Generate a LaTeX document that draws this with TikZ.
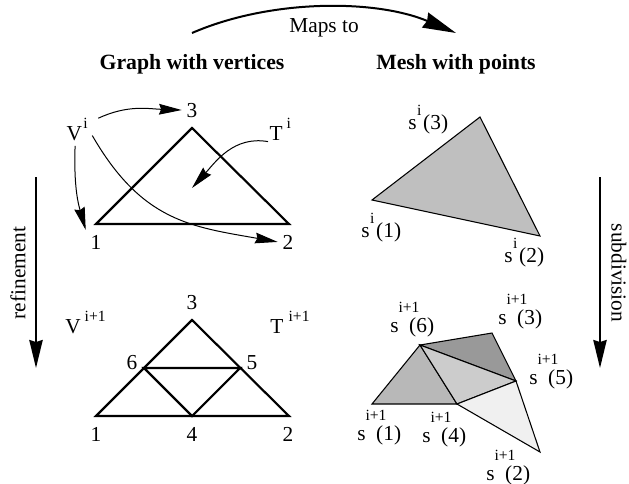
\documentclass[tikz,border=0pt]{standalone}
\usepackage{fontspec}
\setmainfont{Liberation Serif}
\usetikzlibrary{arrows.meta, positioning, calc}
% raised index, takes no width of its own
\newcommand{\upidx}[2]{\raisebox{#1}{\makebox[0pt][l]{\fontsize{11.7}{13}\selectfont #2}}}
\begin{document}
\begin{tikzpicture}[
    x=0.75pt, y=-0.75pt,
    every node/.style={font=\fontsize{16}{19}\selectfont, inner sep=0pt},
    lab/.style={anchor=base, inner sep=3.5pt},
    sublab/.style={anchor=base west},
    headline/.style={anchor=base, font=\fontsize{16.3}{19}\selectfont\bfseries},
    graphline/.style={draw=black, line width=1.6pt, line join=miter},
    meshface/.style={draw=black, line width=0.8pt, line join=miter},
    thin arrow/.style={-{Stealth[length=17pt,width=8pt,inset=1.5pt]}, line width=0.75pt},
    flow arrow/.style={-{Stealth[length=21pt,width=10pt,inset=1.5pt]}, line width=1.5pt},
  ]
  \useasboundingbox (0,0) rectangle (629,483);

  %% ---- headings and the top arrow ----
  \node[headline] (graphhead) at (192,69) {Graph with vertices};
  \node[headline] (meshhead)  at (456,69) {Mesh with points};
  \node[anchor=base] (maps) at (324,32) {Maps to};
  \coordinate (mapsL) at (192,33);
  \coordinate (mapsR) at (456,33);
  \draw[flow arrow, -{Stealth[length=25pt,width=12pt,inset=1.5pt]}]
    (mapsL) .. controls (270,-1) and (375,-1) .. (mapsR);

  %% ---- side arrows ----
  \coordinate (refA) at (36,177);
  \coordinate (refB) at (36,368);
  \coordinate (subA) at (600,177);
  \coordinate (subB) at (600,368);
  \draw[flow arrow] (refA) -- (refB);
  \draw[flow arrow] (subA) -- (subB);
  \node[rotate=90] (refine) at (18,273) {refinement};
  \node[rotate=-90] (subdiv) at (619,273) {subdivision};

  %% ---- graph, level i ----
  \coordinate (a1) at (96,224);
  \coordinate (a2) at (289,224);
  \coordinate (a3) at (192,128);
  \draw[graphline] (a1) -- (a3) -- (a2) -- cycle;
  \node[lab] (la3) at (192,117) {3};
  \node[lab] (la1) at (96,249) {1};
  \node[lab] (la2) at (288,249) {2};
  \node[lab, anchor=base west, inner sep=4pt] (Vi) at (61,140) {V\upidx{9pt}{\kern1pt i}\kern8pt};
  \node[lab, anchor=base west, inner sep=1pt] (Ti) at (268,140) {T\upidx{9pt}{\kern3pt i}\kern8pt};
  \coordinate (Tin) at (192,188);
  \draw[thin arrow] (Vi.30) to[out=25,in=178] (la3.west);
  \draw[thin arrow] (Vi.-105) to[out=-92,in=106] (la1.north west);
  \draw[thin arrow, shorten <=-9pt] (Vi.south east) to[out=-60,in=170,looseness=1.1] (la2.west);
  \draw[thin arrow] (Ti.south west) to[out=170,in=48] (Tin);

  %% ---- graph, level i+1 ----
  \coordinate (b1) at (96,416);
  \coordinate (b2) at (289,416);
  \coordinate (b3) at (192,320);
  \coordinate (b4) at (192,416);
  \coordinate (b5) at (240,368);
  \coordinate (b6) at (144,368);
  \draw[graphline] (b1) -- (b3) -- (b2) -- cycle;
  \draw[graphline] (b6) -- (b5) -- (b4) -- cycle;
  \node[lab] (lb3) at (192,309) {3};
  \node[lab] (lb1) at (96,441) {1};
  \node[lab] (lb4) at (192,441) {4};
  \node[lab] (lb2) at (288,441) {2};
  \node[lab] (lb6) at (132,369) {6};
  \node[lab] (lb5) at (252,369) {5};
  \node[sublab] (Vn) at (65,333) {V\upidx{9pt}{\kern3pt i+1}};
  \node[sublab] (Tn) at (270,333) {T\upidx{9pt}{\kern4pt i+1}};

  %% ---- mesh, level i ----
  \coordinate (p1) at (372,200);
  \coordinate (p2) at (540,236);
  \coordinate (p3) at (480,117);
  \draw[meshface, fill=black!25] (p1) -- (p3) -- (p2) -- cycle;
  \node[sublab] (sp3) at (408,129) {s\upidx{10.5pt}{\kern0.5pt i}\kern5pt(3)};
  \node[sublab] (sp1) at (361,237) {s\upidx{10.5pt}{\kern0.5pt i}\kern5pt(1)};
  \node[sublab] (sp2) at (504,262) {s\upidx{10.5pt}{\kern0.5pt i}\kern5pt(2)};

  %% ---- mesh, level i+1 ----
  \coordinate (q1) at (372,404);
  \coordinate (q2) at (540,452);
  \coordinate (q3) at (492,333);
  \coordinate (q4) at (457,404);
  \coordinate (q5) at (516,381);
  \coordinate (q6) at (420,345);
  \draw[meshface, fill=black!28] (q1) -- (q6) -- (q4) -- cycle;
  \draw[meshface, fill=black!40] (q6) -- (q3) -- (q5) -- cycle;
  \draw[meshface, fill=black!20] (q6) -- (q5) -- (q4) -- cycle;
  \draw[meshface, fill=black!6]  (q4) -- (q5) -- (q2) -- cycle;
  \node[sublab] (sq6) at (390,332) {s\upidx{15pt}{i+1}\kern8pt(6)};
  \node[sublab] (sq3) at (498,324) {s\upidx{15pt}{i+1}\kern8pt(3)};
  \node[sublab] (sq5) at (529,384) {s\upidx{15pt}{i+1}\kern8pt(5)};
  \node[sublab] (sq1) at (357,440) {s\upidx{15pt}{i+1}\kern8pt(1)};
  \node[sublab] (sq4) at (422,442) {s\upidx{15pt}{i+1}\kern8pt(4)};
  \node[sublab] (sq2) at (486,480) {s\upidx{15pt}{i+1}\kern8pt(2)};
\end{tikzpicture}
\end{document}
